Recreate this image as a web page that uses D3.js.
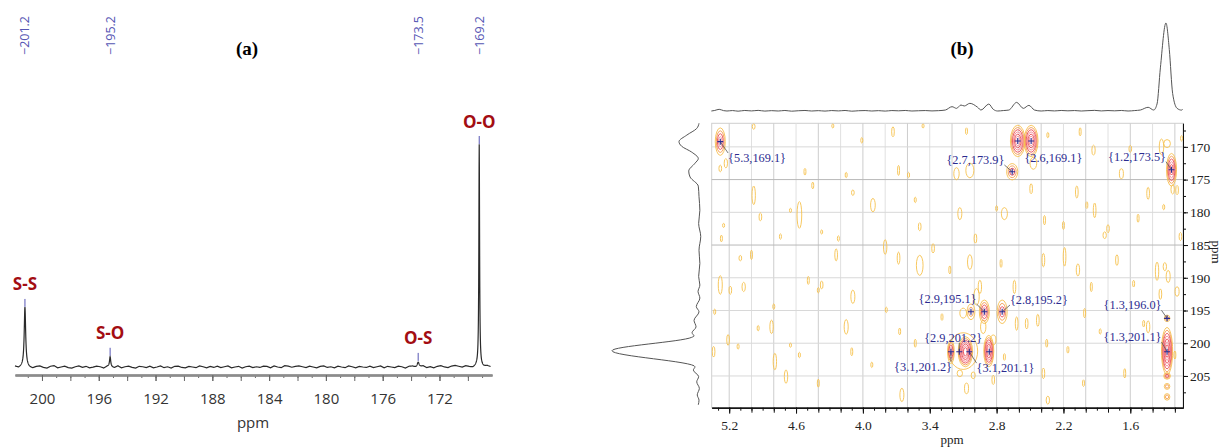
<!DOCTYPE html>
<html>
<head>
<meta charset="utf-8">
<script src="https://cdn.jsdelivr.net/npm/d3@7"></script>
<style>
  body { margin: 0; background: #fff; }
  svg { display: block; }
</style>
</head>
<body>
<svg width="1223" height="448"></svg>
<script>
const svg = d3.select("svg");

// ---------- (a) 1D 13C spectrum ----------
// [ppm, height (O-O = 100), half width]
const peaksA = [[201.2, 26.6, 0.06], [195.2, 4.6, 0.05], [173.5, 2.3, 0.08], [169.2, 100, 0.03]];
const bondLabels = ["S-S", "S-O", "O-S", "O-O"];
const pickLabels = ["\u2212201.2", "\u2212195.2", "\u2212173.5", "\u2212169.2"];
const ticksA = [200, 196, 192, 188, 184, 180, 176, 172];
// baseline read every 0.25 ppm starting at 201.9 ppm
const noiseA = [
  0.3,-0.4,0.1,0.5,-0.3,-0.6,0.1,0.4,-0.2,-0.5,0.3,0.6,-0.4,0.0,0.4,-0.3,-0.5,0.1,0.5,-0.2,
  0.3,-0.4,-0.1,0.4,0.1,-0.5,0.3,0.0,-0.3,0.5,-0.4,0.1,0.4,-0.2,-0.5,0.3,0.1,-0.3,0.4,-0.4,
  0.0,0.5,-0.3,0.1,-0.5,0.3,0.4,-0.2,-0.4,0.3,0.0,-0.3,0.5,0.1,-0.4,0.3,-0.2,0.4,-0.3,0.1,
  0.5,-0.4,0.0,0.3,-0.5,0.1,0.4,-0.3,0.1,-0.2,0.4,0.3,-0.4,0.5,0.0,-0.3,0.6,0.4,-0.1,0.3,
  0.5,0.1,-0.3,0.4,0.0,-0.4,0.3,0.5,-0.2,0.1,-0.4,0.4,0.0,-0.3,0.5,0.1,-0.4,0.3,0.0,-0.2,
  0.4,-0.3,0.1,0.5,-0.4,0.3,0.0,-0.3,0.4,0.1,-0.5,0.3,0.4,-0.2,0.0,0.5,-0.3,0.1,-0.4,0.3,
  0.6,0.0,-0.3,0.4,0.7,0.3,-0.1,0.5,0.1,-0.3,0.4,0.3,0.0,0.5,0.1
];
const noiseStartA = 201.9, noiseStepA = 0.25;

// ---------- (b) 2D HSQC-like map ----------
const hTicks = [5.2, 4.6, 4.0, 3.4, 2.8, 2.2, 1.6];
const cTicks = [170, 175, 180, 185, 190, 195, 200, 205];
// [1H ppm, 13C ppm, 1H half width, 13C half width, contour levels]
const crossPeaks = [
  [5.28, 169.2, 0.045, 2.1, 4],
  [2.61, 169.1, 0.066, 2.4, 6],
  [2.49, 169.1, 0.062, 2.4, 6],
  [2.66, 173.8, 0.05, 1.25, 3],
  [1.23, 173.5, 0.045, 2.5, 5],
  [2.91, 195.2, 0.045, 1.8, 4],
  [3.03, 195.2, 0.035, 1.2, 2],
  [2.75, 195.2, 0.045, 1.8, 3],
  [1.27, 196.2, 0.025, 0.5, 2],
  [1.27, 201.2, 0.05, 3.6, 7],
  [1.27, 205.0, 0.03, 0.5, 3],
  [1.27, 206.6, 0.025, 0.45, 2],
  [1.27, 208.2, 0.025, 0.5, 2],
  [3.10, 201.2, 0.13, 2.8, 1],
  [3.21, 201.3, 0.03, 1.8, 4],
  [3.08, 201.3, 0.065, 2.3, 7],
  [2.87, 201.2, 0.045, 2.4, 6]
];
// weak noise contours [1H, 13C, 1H half width, 13C half width]
const noiseBlobs = [
  [4.98,166.9,.012,.41],[4.27,166.8,.009,.31],[4.01,169.0,.009,.41],[3.73,167.7,.012,.76],
  [3.46,166.8,.009,.31],[3.07,167.6,.009,.51],[5.28,173.3,.012,.51],[5.23,172.5,.015,.71],
  [4.52,173.8,.009,.51],[4.15,174.3,.009,.41],[3.68,173.6,.009,.76],[3.59,174.3,.009,.41],
  [3.16,174.1,.024,.92],[3.04,173.6,.036,1.12],[2.47,172.5,.03,.92],[2.34,168.2,.009,.41],
  [2.05,167.7,.009,.61],[1.93,170.5,.015,.76],[1.60,170.3,.012,.51],[1.27,169.5,.03,.61],
  [1.14,168.7,.009,.41],[1.68,174.1,.018,.76],[1.18,176.6,.012,.71],[4.98,177.4,.015,1.42],
  [4.92,180.7,.012,.61],[4.74,183.7,.009,.41],[4.65,179.7,.009,.31],[4.57,180.4,.021,2.04],
  [4.45,175.9,.009,.51],[4.37,183.0,.006,.31],[4.22,184.0,.009,.41],[4.09,177.0,.012,.41],
  [3.91,178.9,.021,1.02],[3.53,178.1,.009,.41],[3.49,182.2,.012,.61],[3.13,180.2,.018,.92],
  [2.99,184.0,.012,.71],[2.80,179.4,.009,.41],[2.73,180.2,.027,.92],[2.49,176.4,.012,.76],
  [2.37,181.2,.009,.71],[2.20,182.0,.009,.61],[2.08,176.9,.012,.92],[1.99,178.9,.009,.51],
  [1.92,179.7,.012,1.12],[1.80,182.5,.012,.61],[1.83,183.5,.015,.51],[1.53,180.9,.009,.61],
  [1.44,177.1,.012,.92],[1.15,183.7,.012,.61],[1.30,179.2,.009,.41],[5.25,182.0,.006,.31],
  [5.27,184.0,.006,.51],[5.10,187.0,.012,.41],[5.00,186.5,.009,.71],[5.28,191.1,.018,1.42],
  [5.19,191.9,.012,.61],[5.07,191.4,.015,.71],[4.49,190.4,.009,.61],[4.40,191.9,.009,.41],
  [4.37,191.1,.012,.61],[4.24,186.5,.012,.92],[4.09,192.9,.018,1.02],[3.80,185.3,.015,1.12],
  [3.68,187.0,.012,.92],[3.49,188.1,.03,1.53],[3.37,185.5,.012,.71],[3.22,188.8,.009,.61],
  [3.04,187.6,.021,1.12],[2.95,191.4,.015,1.02],[2.76,187.8,.009,.61],[2.64,191.4,.012,1.02],
  [2.38,187.3,.012,1.02],[2.19,186.8,.012,1.42],[2.07,188.8,.015,.92],[1.95,191.4,.009,.71],
  [1.72,187.3,.012,.81],[1.57,190.9,.009,.51],[1.29,188.3,.015,.61],[1.26,189.8,.018,.92],
  [1.18,192.1,.018,.71],[5.33,195.2,.009,.41],[4.80,194.4,.009,.41],[5.34,201.3,.012,.81],
  [5.21,199.5,.012,.81],[5.12,200.5,.009,.41],[4.94,197.7,.009,.41],[4.82,197.5,.015,1.02],
  [4.79,202.8,.015,1.27],[4.69,205.1,.015,1.02],[4.57,201.8,.009,.41],[4.65,200.3,.006,.31],
  [4.40,206.1,.009,.61],[4.15,197.5,.018,1.12],[4.10,201.3,.009,.61],[3.92,203.3,.009,.41],
  [3.79,194.9,.009,.41],[3.67,198.2,.009,.51],[3.65,207.9,.018,1.02],[3.53,200.0,.009,.61],
  [3.29,196.0,.009,.51],[3.07,206.9,.018,.81],[2.83,205.6,.012,.71],[2.62,197.0,.012,1.02],
  [2.53,197.0,.012,.81],[2.43,196.5,.012,.92],[2.35,200.0,.009,.61],[2.38,204.6,.012,.81],
  [2.34,208.7,.015,.61],[2.16,201.0,.009,.51],[2.01,195.4,.009,.71],[1.87,198.2,.009,.41],
  [1.65,204.6,.009,.71],[1.48,197.0,.009,.51],[1.44,197.5,.015,.92],[1.20,201.8,.009,.61],
  [2.02,206.1,.009,.51],[2.73,202.1,.009,.51],[3.10,195.4,.03,.76],[2.98,192.9,.024,1.27],
  [2.92,197.5,.024,1.02],[3.13,204.6,.024,.51],[3.01,204.9,.018,.51],[2.83,199.5,.024,.76],
  [1.36,189.0,.015,1.4],[1.33,192.5,.012,.8],[1.32,170.0,.02,1.2],[1.22,176.5,.015,.7]
];
// picked peak positions [1H, 13C]
const picked = [
  [5.28,169.2],[2.61,169.1],[2.49,169.1],[2.66,173.8],[1.23,173.5],[2.91,195.2],[3.03,195.2],
  [2.75,195.2],[1.27,196.2],[1.27,201.3],[3.21,201.3],[3.135,201.3],[3.045,201.3],[2.866,201.3]
];
// [text, label 1H, label 13C, target 1H, target 13C]
const peakLabels = [
  ["{5.3,169.1}", 4.95, 171.7, 5.28, 169.2],
  ["{2.7,173.9}", 2.99, 172.0, 2.66, 173.8],
  ["{2.6,169.1}", 2.29, 171.7, null, null],
  ["{1.2,173.5}", 1.54, 171.5, 1.23, 173.5],
  ["{2.9,195.1}", 3.24, 193.25, 2.91, 195.2],
  ["{2.8,195.2}", 2.42, 193.4, 2.75, 195.2],
  ["{1.3,196.0}", 1.58, 194.2, 1.27, 196.2],
  ["{2.9,201.2}", 3.19, 199.2, 3.135, 201.3],
  ["{1.3,201.1}", 1.58, 199.05, 1.27, 201.3],
  ["{3.1,201.2}", 3.46, 203.6, 3.21, 201.3],
  ["{3.1,201.1}", 2.72, 203.8, 3.045, 201.3]
];
// 1H projection (top) [ppm, intensity]
const projH = [
  [5.36,0],[5.33,0.6],[5.29,1.9],[5.25,0.4],[5.22,0],[5.17,0.5],[5.12,-0.2],[5.06,0.6],[5.0,0.1],
  [4.94,0.7],[4.88,-0.1],[4.82,0.4],[4.76,0.0],[4.7,0.6],[4.64,-0.2],[4.58,0.3],[4.52,0.6],
  [4.46,0.0],[4.4,0.4],[4.34,-0.1],[4.28,0.5],[4.22,0.1],[4.16,0.6],[4.1,-0.2],[4.04,0.3],
  [3.98,0.5],[3.92,0.0],[3.86,0.4],[3.8,-0.1],[3.74,0.5],[3.68,0.2],[3.62,0.6],[3.56,0.0],
  [3.5,0.3],[3.44,0.5],[3.38,0.1],[3.32,0.4],[3.26,1.1],[3.2,4.9],[3.16,3.0],[3.12,6.8],
  [3.09,5.7],[3.04,8.7],[2.97,4.2],[2.94,1.1],[2.87,7.9],[2.83,1.9],[2.79,0],[2.74,0.5],
  [2.69,1.1],[2.62,9.8],[2.56,3.0],[2.51,6.4],[2.46,1.1],[2.40,0],[2.34,0.5],[2.28,0.1],
  [2.22,0.6],[2.16,0.2],[2.1,0.5],[2.04,0.0],[1.98,0.4],[1.92,0.7],[1.86,0.1],[1.8,0.5],
  [1.74,0.2],[1.68,0.6],[1.62,0.0],[1.56,0.5],[1.51,1.1],[1.44,4.2],[1.39,1.1],[1.36,8],
  [1.33,49],[1.28,100],[1.25,70],[1.22,20],[1.18,3],[1.14,1],[1.13,2]
];
// 13C projection (left) [ppm, intensity]
const projC = [
  [166.4,0],[167.2,2.7],[168.2,14],[169.2,23],[169.9,20],[170.8,8.4],[171.8,0.8],[172.5,4.6],
  [173.7,11.8],[174.6,10.3],[176.0,0.8],[177.6,0],[179.7,-1],[181.7,0.4],[183.7,-2],[185.8,0],
  [187.8,-1],[189.8,0.4],[191.1,-1],[192.1,1.1],[193.1,-1],[194.4,3.1],[195.2,0],[196.5,5.7],
  [197.5,3.4],[198.4,8],[198.9,5.7],[199.1,8.4],[201.15,100],[203.6,4.6],[204.1,6.5],[205.1,0.4],
  [205.9,2.6],[206.9,-0.4],[207.9,2],[208.7,0],[209.4,0.8]
];

const bondColor = "#a30d12";
const pickColor = "#5656b4";
const navy = "#2b2b8f";
const serif = "'Liberation Serif', 'DejaVu Serif', serif";
const sans = "'Open Sans', 'Liberation Sans', sans-serif";

// ================= panel (a) =================
const xA = d3.scaleLinear().domain([201.9, 168.3]).range([15, 492]);
const yA = d3.scaleLinear().domain([0, 100]).range([367, 145]);

const noiseAt = (p) => {
  const t = (noiseStartA - p) / noiseStepA;
  const i = Math.floor(t), f = t - i;
  const get = (k) => noiseA[Math.max(0, Math.min(noiseA.length - 1, k))];
  return get(i) + (get(i + 1) - get(i)) * f;
};
let ppmA = noiseA.map((_, i) => noiseStartA - i * noiseStepA);
peaksA.forEach(([c]) => d3.range(-0.6, 0.6, 0.01).forEach((d) => ppmA.push(c + d)));
ppmA = ppmA.filter((p) => p <= 201.9 && p >= 168.3).sort((a, b) => b - a);
const specA = ppmA.map((p) => [p, noiseAt(p) + d3.sum(peaksA, ([c, h, w]) => h / (1 + ((p - c) / w) ** 2))]);

const gA = svg.append("g");

// axis
const axA = gA.append("g").attr("transform", "translate(0,375)");
axA.append("g").call(d3.axisBottom(xA).tickValues(d3.range(169, 202)).tickSize(3).tickSizeOuter(0).tickFormat(""));
axA.append("g").call(d3.axisBottom(xA).tickValues(d3.range(170, 202, 2)).tickSize(6).tickSizeOuter(0).tickFormat(""));
axA.append("g").call(d3.axisBottom(xA).tickValues(ticksA).tickSize(6).tickSizeOuter(0).tickPadding(12));
axA.selectAll(".domain").attr("stroke", "#8c8c8c").attr("stroke-width", 2);
axA.selectAll(".tick line").attr("stroke", "#666");
axA.selectAll("text").attr("font-family", sans).attr("font-size", 15).attr("fill", "#333");

gA.append("text")
  .attr("x", 253).attr("y", 428)
  .attr("text-anchor", "middle")
  .attr("font-family", sans).attr("font-size", 15).attr("fill", "#333")
  .text("ppm");

// spectrum
gA.append("path")
  .datum(specA)
  .attr("fill", "none")
  .attr("stroke", "#2a2a2a")
  .attr("stroke-width", 1.2)
  .attr("d", d3.line().x((d) => xA(d[0])).y((d) => yA(d[1])));

// peak pick markers
gA.selectAll(".pick")
  .data(peaksA)
  .enter().append("line")
  .attr("x1", (d) => xA(d[0])).attr("x2", (d) => xA(d[0]))
  .attr("y1", (d) => yA(d[1]) - 1).attr("y2", (d) => yA(d[1]) - 9)
  .attr("stroke", pickColor).attr("stroke-width", 1);

gA.selectAll(".pickLabel")
  .data(peaksA)
  .enter().append("text")
  .attr("transform", (d) => `translate(${xA(d[0])},55) rotate(-90)`)
  .attr("dominant-baseline", "central")
  .attr("font-family", sans).attr("font-size", 12.5).attr("fill", pickColor)
  .text((d, i) => pickLabels[i]);

gA.selectAll(".bond")
  .data(peaksA)
  .enter().append("text")
  .attr("x", (d) => xA(d[0]))
  .attr("y", (d) => yA(d[1]) - 24)
  .attr("text-anchor", "middle")
  .attr("dominant-baseline", "central")
  .attr("font-family", sans).attr("font-weight", 700).attr("font-size", 17)
  .attr("fill", bondColor)
  .text((d, i) => bondLabels[i]);

svg.append("text")
  .attr("x", 247).attr("y", 48)
  .attr("text-anchor", "middle").attr("dominant-baseline", "central")
  .attr("font-family", serif).attr("font-weight", 700).attr("font-size", 19)
  .text("(a)");

// ================= panel (b) =================
const xB = d3.scaleLinear().domain([5.357, 1.127]).range([711.7, 1183]);
const yB = d3.scaleLinear().domain([166.4, 209.85]).range([123.3, 407.7]);
const [plotL, plotR] = xB.range();
const [plotT, plotB] = yB.range();

const gB = svg.append("g");

svg.append("defs").append("clipPath").attr("id", "plotClip")
  .append("rect").attr("x", plotL).attr("y", plotT)
  .attr("width", plotR - plotL).attr("height", plotB - plotT);

// frame + grid
gB.append("rect")
  .attr("x", plotL).attr("y", plotT).attr("width", plotR - plotL).attr("height", plotB - plotT)
  .attr("fill", "none").attr("stroke", "#cfcfcf");

const vGrid = d3.range(0, 21).map((i) => +(5.2 - 0.2 * i).toFixed(1));
gB.selectAll(".vgrid")
  .data(vGrid)
  .enter().append("line")
  .attr("x1", (d) => xB(d)).attr("x2", (d) => xB(d))
  .attr("y1", plotT).attr("y2", plotB)
  .attr("stroke", (d, i) => (i % 2 ? "#e0e0e0" : "#cdcdcd"));

gB.selectAll(".hgrid")
  .data(cTicks)
  .enter().append("line")
  .attr("x1", plotL).attr("x2", plotR)
  .attr("y1", (d) => yB(d)).attr("y2", (d) => yB(d))
  .attr("stroke", (d) => (d === 175 || d === 185 ? "#b8b8b8" : "#d8d8d8"));

// contours
const plot = gB.append("g").attr("clip-path", "url(#plotClip)");
const rx = (h, w) => Math.abs(xB(h + w) - xB(h));
const ry = (c, w) => Math.abs(yB(c + w) - yB(c));

plot.selectAll(".noise")
  .data(noiseBlobs)
  .enter().append("ellipse")
  .attr("cx", (d) => xB(d[0])).attr("cy", (d) => yB(d[1]))
  .attr("rx", (d) => Math.max(1, rx(d[0], d[2])))
  .attr("ry", (d) => ry(d[1], d[3]))
  .attr("fill", "none").attr("stroke", "#f6c24e").attr("stroke-width", 0.9);

const levelColor = (k) => (k === 0 ? "#f6bf4f" : k === 1 ? "#f39a50" : k % 2 ? "#f38590" : "#ea4a52");
const rings = [];
crossPeaks.forEach(([h, c, wh, wc, n]) => {
  for (let k = 0; k < n; k++) {
    const f = 1 - (k / n) * 0.85;
    rings.push({ h, c, rx: rx(h, wh) * f, ry: ry(c, wc) * f, k });
  }
});
plot.selectAll(".ring")
  .data(rings)
  .enter().append("ellipse")
  .attr("cx", (d) => xB(d.h)).attr("cy", (d) => yB(d.c))
  .attr("rx", (d) => Math.max(0.8, d.rx)).attr("ry", (d) => d.ry)
  .attr("fill", "none")
  .attr("stroke", (d) => levelColor(d.k))
  .attr("stroke-width", 0.9);

// axes
const axBottom = gB.append("g").attr("transform", `translate(0,${plotB})`);
axBottom.append("g").call(d3.axisBottom(xB)
  .tickValues(d3.range(0, 43).map((i) => +(5.3 - 0.1 * i).toFixed(1)).filter((v) => v <= 5.357 && v >= 1.127))
  .tickSize(3).tickSizeOuter(0).tickFormat(""));
axBottom.append("g").call(d3.axisBottom(xB).tickValues(vGrid).tickSize(5).tickSizeOuter(0).tickFormat(""));
axBottom.append("g").call(d3.axisBottom(xB).tickValues(hTicks).tickSize(6).tickSizeOuter(0)
  .tickPadding(7).tickFormat(d3.format(".1f")));

const axRight = gB.append("g").attr("transform", `translate(${plotR},0)`);
axRight.append("g").call(d3.axisRight(yB).tickValues(d3.range(167.5, 210, 2.5)).tickSize(3).tickSizeOuter(0).tickFormat(""));
axRight.append("g").call(d3.axisRight(yB).tickValues(cTicks).tickSize(5).tickSizeOuter(0).tickPadding(2));

gB.selectAll(".domain").attr("stroke", "#111");
gB.selectAll(".tick line").attr("stroke", "#111");
gB.selectAll(".tick text").attr("font-family", serif).attr("font-size", 13.5).attr("fill", "#222");

gB.append("text")
  .attr("x", 952).attr("y", 444)
  .attr("text-anchor", "middle")
  .attr("font-family", serif).attr("font-size", 13).attr("fill", "#222")
  .text("ppm");
gB.append("text")
  .attr("transform", "translate(1212,252) rotate(90)")
  .attr("text-anchor", "middle")
  .attr("font-family", serif).attr("font-size", 13).attr("fill", "#222")
  .text("ppm");

// projections
const yTop = d3.scaleLinear().domain([0, 100]).range([111, 23]);
gB.append("path")
  .datum(projH)
  .attr("fill", "none").attr("stroke", "#555").attr("stroke-width", 1)
  .attr("d", d3.line().x((d) => xB(d[0])).y((d) => yTop(d[1])).curve(d3.curveMonotoneX));

const xLeft = d3.scaleLinear().domain([0, 100]).range([699, 612]);
gB.append("path")
  .datum(projC)
  .attr("fill", "none").attr("stroke", "#555").attr("stroke-width", 1)
  .attr("d", d3.line().x((d) => xLeft(d[1])).y((d) => yB(d[0])).curve(d3.curveMonotoneY));

// peak labels + leaders
const labelG = gB.append("g");
peakLabels.forEach(([txt, lh, lc, th, tc]) => {
  const t = labelG.append("text")
    .attr("x", xB(lh)).attr("y", yB(lc))
    .attr("text-anchor", "middle").attr("dominant-baseline", "central")
    .attr("font-family", serif).attr("font-size", 12.3).attr("fill", navy)
    .text(txt);
  if (th === null) return;
  const bb = t.node().getBBox();
  const tx = xB(th), ty = yB(tc);
  const px = Math.max(bb.x, Math.min(bb.x + bb.width, tx));
  const py = Math.max(bb.y + 2, Math.min(bb.y + bb.height - 2, ty));
  labelG.append("line")
    .attr("x1", px).attr("y1", py).attr("x2", tx).attr("y2", ty)
    .attr("stroke", "#555").attr("stroke-width", 0.8);
});

// picked peak markers
gB.selectAll(".mark")
  .data(picked)
  .enter().append("path")
  .attr("d", (d) => {
    const x = xB(d[0]), y = yB(d[1]);
    return `M${x - 3},${y}H${x + 3}M${x},${y - 3}V${y + 3}`;
  })
  .attr("stroke", navy).attr("stroke-width", 1.1);

svg.append("text")
  .attr("x", 962).attr("y", 48)
  .attr("text-anchor", "middle").attr("dominant-baseline", "central")
  .attr("font-family", serif).attr("font-weight", 700).attr("font-size", 19)
  .text("(b)");
</script>
</body>
</html>
